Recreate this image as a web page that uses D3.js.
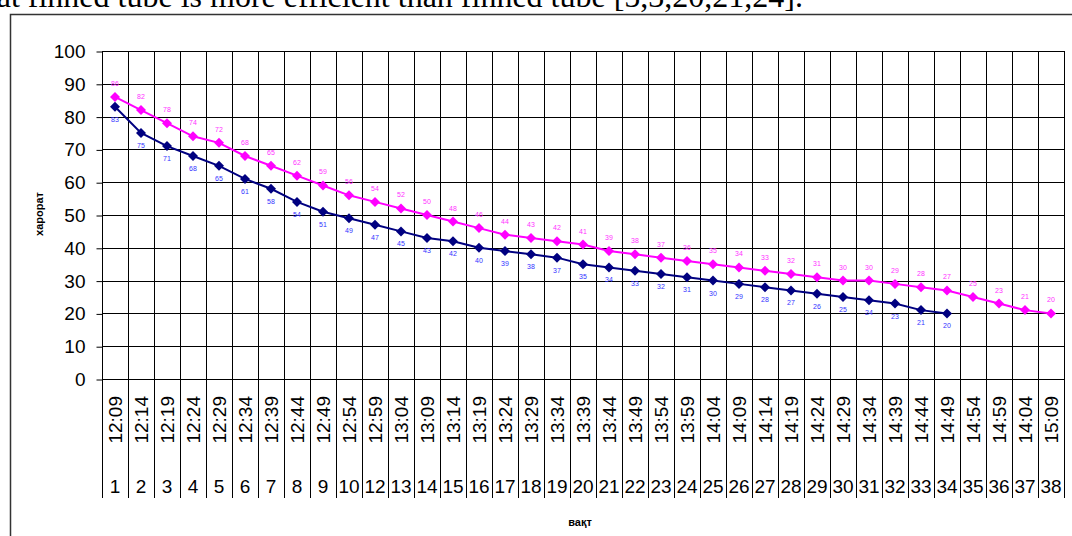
<!DOCTYPE html>
<html>
<head>
<meta charset="utf-8">
<script src="https://cdn.jsdelivr.net/npm/d3@7"></script>
<style>
  body { margin: 0; background: #fff; }
  svg { display: block; }
</style>
</head>
<body>
<div id="container"></div>
<script>
// page size
const width = 1072;
const height = 536;

// category labels (two rows: time and measurement number)
const times = ["12:09","12:14","12:19","12:24","12:29","12:34","12:39","12:44","12:49","12:54",
  "12:59","13:04","13:09","13:14","13:19","13:24","13:29","13:34","13:39","13:44",
  "13:49","13:54","13:59","14:04","14:09","14:14","14:19","14:24","14:29","14:34",
  "14:39","14:44","14:49","14:54","14:59","14:04","15:09"];
const nums = ["1","2","3","4","5","6","7","8","9","10","12","13","14","15","16","17","18","19","20",
  "21","22","23","24","25","26","27","28","29","30","31","32","33","34","35","36","37","38"];

// series values
const pinkVals = [86,82,78,74,72,68,65,62,59,56,54,52,50,48,46,44,43,42,41,39,
  38,37,36,35,34,33,32,31,30,30,29,28,27,25,23,21,20];
const navyVals = [83,75,71,68,65,61,58,54,51,49,47,45,43,42,40,39,38,37,35,34,
  33,32,31,30,29,28,27,26,25,24,23,21,20];

const yTicks = [0,10,20,30,40,50,60,70,80,90,100];

// scales
const xScale = d3.scaleBand()
  .domain(d3.range(times.length))
  .range([102, 1064]);

const yScale = d3.scaleLinear()
  .domain([0, 100])
  .range([379, 51]);

const svg = d3.select("#container")
  .append("svg")
  .attr("width", width)
  .attr("height", height)
  .style("font-family", "Arial, 'Liberation Sans', sans-serif");

// clipped line of text from the document above the chart
svg.append("text")
  .attr("x", 803)
  .attr("y", 7)
  .attr("text-anchor", "end")
  .style("font-family", "'Liberation Serif', 'Times New Roman', serif")
  .style("font-size", "32px")
  .text("that finned tube is more efficient than finned tube [5,3,20,21,24].");

// outer chart frame
svg.append("rect")
  .attr("x", 10.5).attr("y", 14.5)
  .attr("width", 1100).attr("height", 600)
  .attr("fill", "none")
  .attr("stroke", "#333")
  .attr("stroke-width", 1.5);

// horizontal grid
svg.append("g")
  .selectAll("line")
  .data(yTicks)
  .join("line")
  .attr("x1", 102).attr("x2", 1064)
  .attr("y1", d => Math.round(yScale(d)) + 0.5)
  .attr("y2", d => Math.round(yScale(d)) + 0.5)
  .attr("stroke", "#000");

// vertical category lines, running down through the label rows
const bounds = d3.range(times.length + 1).map(i => i === times.length ? xScale.range()[1] : xScale(i));
svg.append("g")
  .selectAll("line")
  .data(bounds)
  .join("line")
  .attr("x1", d => Math.round(d) + 0.5)
  .attr("x2", d => Math.round(d) + 0.5)
  .attr("y1", 51)
  .attr("y2", 498)
  .attr("stroke", "#000");

// y axis
const yAxis = g => g
  .call(d3.axisLeft(yScale).tickValues(yTicks).tickSize(6).tickPadding(11))
  .call(g => g.select(".domain").remove())
  .call(g => g.selectAll("line").attr("stroke", "#000"))
  .call(g => g.selectAll("text")
    .attr("fill", "#000")
    .style("font-size", "19px")
    .style("font-family", "Arial, 'Liberation Sans', sans-serif"));

svg.append("g")
  .attr("transform", "translate(102.5,0.5)")
  .call(yAxis);

// time labels (rotated)
svg.append("g")
  .selectAll("text")
  .data(times)
  .join("text")
  .attr("transform", (d, i) => `translate(${xScale(i) + xScale.bandwidth() / 2},396) rotate(-90)`)
  .attr("text-anchor", "end")
  .attr("dy", "0.35em")
  .style("font-size", "19px")
  .text(d => d);

// number labels
svg.append("g")
  .selectAll("text")
  .data(nums)
  .join("text")
  .attr("x", (d, i) => xScale(i) + xScale.bandwidth() / 2)
  .attr("y", 493)
  .attr("text-anchor", "middle")
  .style("font-size", "19px")
  .text(d => d);

// axis titles
svg.append("text")
  .attr("transform", "translate(43,214) rotate(-90)")
  .attr("text-anchor", "middle")
  .style("font-size", "11px")
  .style("font-weight", "bold")
  .text("харорат");

svg.append("text")
  .attr("x", 580)
  .attr("y", 526)
  .attr("text-anchor", "middle")
  .style("font-size", "11px")
  .style("font-weight", "bold")
  .text("вақт");

// series drawing
const cx = i => xScale(i) + xScale.bandwidth() / 2;
const line = d3.line()
  .x((d, i) => cx(i))
  .y(d => yScale(d));
const diamond = d3.symbol(d3.symbolSquare, 50);

function drawSeries(vals, color, labelColor, labelDy) {
  const g = svg.append("g");
  g.append("path")
    .datum(vals)
    .attr("d", line)
    .attr("fill", "none")
    .attr("stroke", color)
    .attr("stroke-width", 2);
  g.selectAll("path.pt")
    .data(vals)
    .join("path")
    .attr("class", "pt")
    .attr("d", diamond)
    .attr("transform", (d, i) => `translate(${cx(i)},${yScale(d)}) rotate(45)`)
    .attr("fill", color);
  g.selectAll("text")
    .data(vals)
    .join("text")
    .attr("x", (d, i) => cx(i))
    .attr("y", d => yScale(d) + labelDy)
    .attr("text-anchor", "middle")
    .attr("fill", labelColor)
    .style("font-size", "7px")
    .text(d => d);
}

drawSeries(pinkVals, "#ff00ff", "#ff33ff", -11);
drawSeries(navyVals, "#000080", "#3333ff", 15);
</script>
</body>
</html>
